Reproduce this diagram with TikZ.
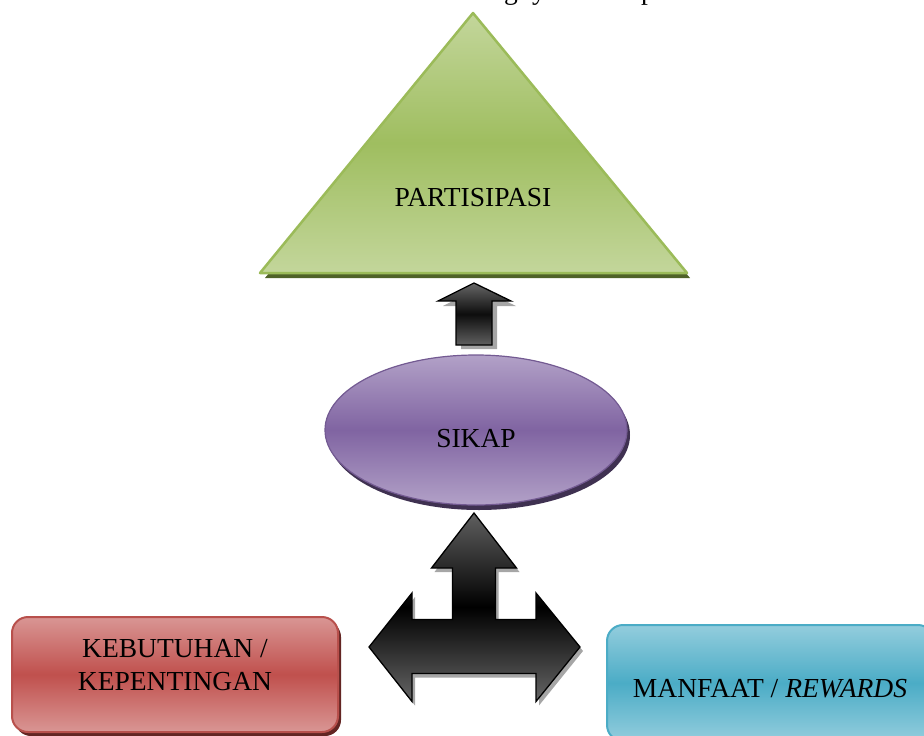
\documentclass[tikz,border=0pt]{standalone}
\usepackage{fontspec}
\setmainfont{Liberation Serif}
\definecolor{trilight}{HTML}{C3D69B}
\definecolor{trimid}{HTML}{9BBB59}
\definecolor{trishadow}{HTML}{4F6228}
\definecolor{purlight}{HTML}{B2A1C7}
\definecolor{purmid}{HTML}{8064A2}
\definecolor{purshadow}{HTML}{3F3151}
\definecolor{redlight}{HTML}{D99694}
\definecolor{redmid}{HTML}{C0504D}
\definecolor{redshadow}{HTML}{632523}
\definecolor{redline}{HTML}{B8504C}
\definecolor{bluelight}{HTML}{93CDDD}
\definecolor{bluemid}{HTML}{4BACC6}
\definecolor{blueshadow}{HTML}{215968}
\begin{document}
\begin{tikzpicture}[x=1pt,y=-1pt,
  lbl/.style={font=\fontsize{27.5}{33}\selectfont, align=center, text=black, inner sep=0pt},
  blockarrow/.style={draw=black, line width=1.3pt, line join=miter, top color=gray!80!black, bottom color=gray!75!black, middle color=black!95},
  arrowshadow/.style={fill=gray!70}]
\useasboundingbox (0,0) rectangle (924,736);

% clipped line of text at the very top
\node[lbl, anchor=base] (tg) at (511,0) {g};
\node[lbl, anchor=base] (ty) at (539,0) {y};
\node[lbl, anchor=base] (tp) at (648,0) {p};

% triangle PARTISIPASI
\fill[trishadow] (477,19) -- (690,278) -- (265,278) -- cycle;
\path[draw=trimid, line width=2.5pt, line join=round, top color=trilight, bottom color=trilight, middle color=trimid!90!trilight]
  (473,13) -- (687,273) -- (260,273) -- cycle;
\node[lbl] (partisipasi) at (473,198) {PARTISIPASI};

% small up arrow
\fill[arrowshadow] (478,288) -- (516,306) -- (497,306) -- (497,349) -- (461,349) -- (461,306) -- (443,306) -- cycle;
\path[blockarrow] (474,283) -- (511,301) -- (492,301) -- (492,345) -- (456,345) -- (456,301) -- (438,301) -- cycle;

% ellipse SIKAP
\fill[purshadow] (479,435) ellipse [x radius=151, y radius=75];
\path[draw=purmid!90!black, line width=1.2pt, top color=purlight, bottom color=purlight, middle color=purmid]
  (476,430) ellipse [x radius=151, y radius=75];
\node[lbl] (sikap) at (476,439) {SIKAP};

% T-shaped arrow (left-right-up)
\fill[arrowshadow, shift={(3,4)}]
  (474,513) -- (516.5,568) -- (495.5,568) -- (495.5,619.5) -- (536,619.5) -- (536,593) -- (580,647)
  -- (536,701.5) -- (536,673.5) -- (412,673.5) -- (412,701.5) -- (369,647) -- (412,593) -- (412,619.5)
  -- (452.5,619.5) -- (452.5,568) -- (431.5,568) -- cycle;
\path[blockarrow, top color=gray!75!black, bottom color=gray!80!black, middle color=black]
  (474,513) -- (516.5,568) -- (495.5,568) -- (495.5,619.5) -- (536,619.5) -- (536,593) -- (580,647)
  -- (536,701.5) -- (536,673.5) -- (412,673.5) -- (412,701.5) -- (369,647) -- (412,593) -- (412,619.5)
  -- (452.5,619.5) -- (452.5,568) -- (431.5,568) -- cycle;

% red box
\fill[redshadow, rounded corners=16pt] (15,621) rectangle (341,736);
\path[draw=redline, line width=2pt, rounded corners=16pt, top color=redlight, bottom color=redlight, middle color=redmid]
  (12,617) rectangle (338,732);
\node[lbl] (kebutuhan) at (175,665) {KEBUTUHAN /\\KEPENTINGAN};

% blue box
\fill[blueshadow, rounded corners=16pt] (610,629) rectangle (937,745);
\path[draw=bluemid, line width=2pt, rounded corners=16pt, top color=bluelight, bottom color=bluelight, middle color=bluemid]
  (607,625) rectangle (934,741);
\node[lbl] (manfaat) at (770,689) {MANFAAT / \textit{REWARDS}};
\end{tikzpicture}
\end{document}
